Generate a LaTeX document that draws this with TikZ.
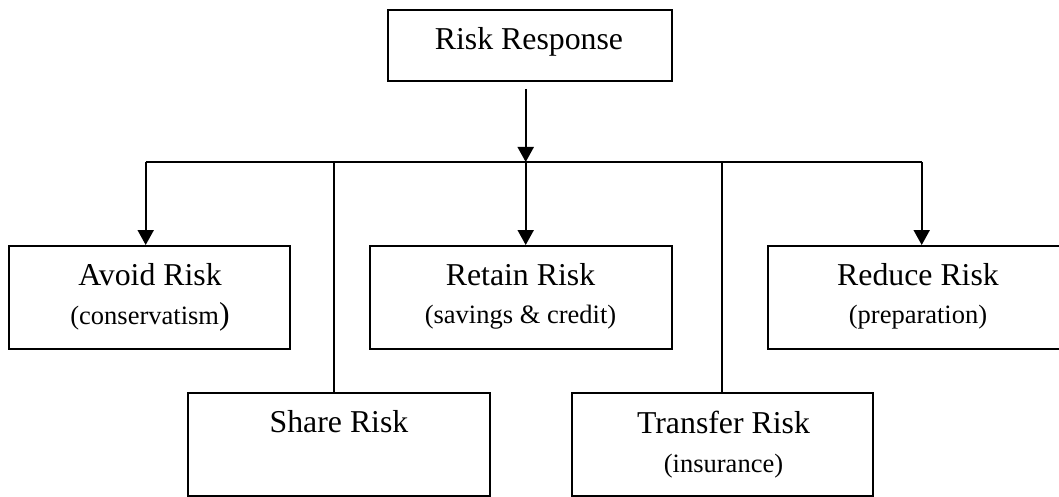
\documentclass[tikz,border=0pt]{standalone}
\usepackage{fontspec}
\setmainfont{Liberation Serif}
\usetikzlibrary{arrows.meta}
\tikzset{
  box/.style={draw=black, line width=2pt, rectangle, inner sep=0pt},
  ttl/.style={anchor=base, inner sep=0pt, font=\fontsize{31.8}{36}\selectfont},
  sub/.style={anchor=base, inner sep=0pt, font=\fontsize{26.5}{30}\selectfont},
  arr/.style={line width=2pt, -{Triangle[length=15pt,width=16pt]}},
  conn/.style={line width=1.6pt},
}
\begin{document}
\begin{tikzpicture}[x=1pt,y=-1pt]
\clip (0,0) rectangle (1059,497);
\fill[white] (0,0) rectangle (1059,497);
% boxes
\node[box, minimum width=284pt, minimum height=71pt] (top) at (530,45.5) {};
\node[box, minimum width=281pt, minimum height=103pt] (avoid) at (149.5,297.5) {};
\node[box, minimum width=302pt, minimum height=103pt] (retain) at (521,297.5) {};
\node[box, minimum width=302pt, minimum height=103pt] (reduce) at (919,297.5) {};
\node[box, minimum width=302pt, minimum height=103pt] (share) at (339,444.5) {};
\node[box, minimum width=301pt, minimum height=103pt] (transfer) at (722.5,444.5) {};
% texts
\node[ttl] (ttop) at (529,50) {Risk Response};
\node[ttl] (tavoid) at (150,285) {Avoid Risk};
\node[sub] (savoid) at (150,324) {(conservatism\fontsize{31.8}{36}\selectfont)};
\node[ttl] (tretain) at (520.5,285) {Retain Risk};
\node[sub] (sretain) at (520.5,323) {(savings \& credit)};
\node[ttl] (treduce) at (918,285) {Reduce Risk};
\node[sub] (sreduce) at (918,323) {(preparation)};
\node[ttl] (tshare) at (339,432) {Share Risk};
\node[ttl] (ttransfer) at (723.5,433) {Transfer Risk};
\node[sub] (stransfer) at (723.5,472) {(insurance)};
% connectors
\coordinate (tstart) at (525.7,89);
\coordinate (busL) at (145.7,162);
\coordinate (busR) at (921.7,162);
\coordinate (busM) at (525.7,162);
\coordinate (bus1) at (334,162);
\coordinate (bus2) at (722,162);
\draw[conn] (busL) -- (busR);
\draw[arr] (tstart) -- (busM);
\draw[arr] (busL) -- (busL |- avoid.north);
\draw[arr] (busM) -- (busM |- retain.north);
\draw[arr] (busR) -- (busR |- reduce.north);
\draw[conn] (bus1) -- (bus1 |- share.north);
\draw[conn] (bus2) -- (bus2 |- transfer.north);
\end{tikzpicture}
\end{document}
